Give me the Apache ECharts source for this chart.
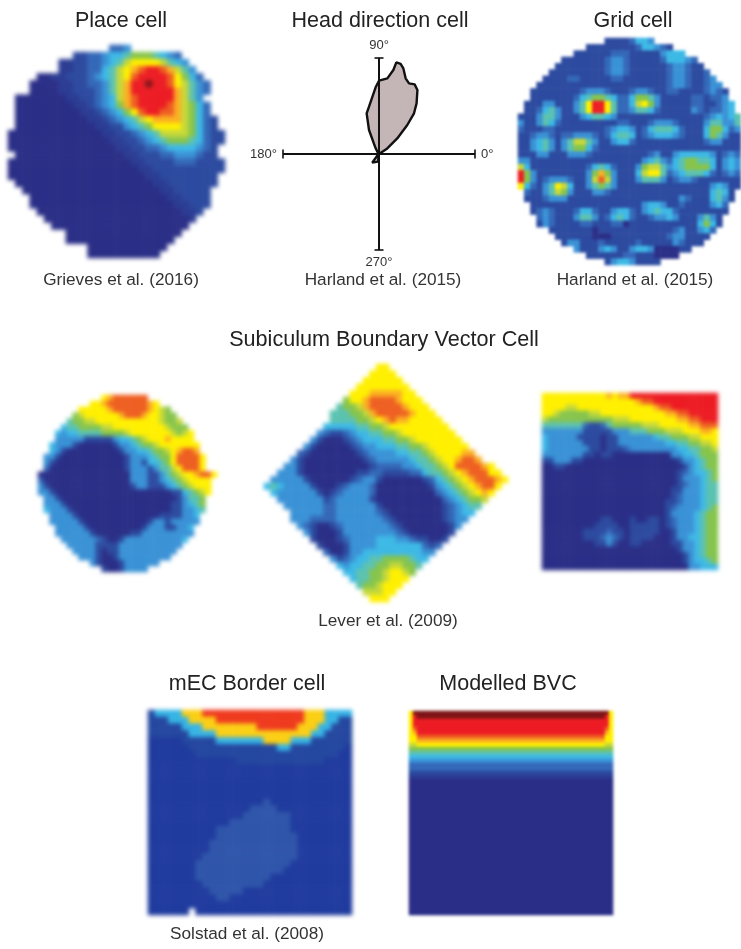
<!DOCTYPE html>
<html><head><meta charset="utf-8">
<script src="https://cdn.jsdelivr.net/npm/echarts@6/dist/echarts.min.js"></script>
<style>
html,body{margin:0;padding:0;background:#fff}
#c{width:741px;height:949px}
#c canvas[data-zr-dom-id="zr_0"]{filter:blur(2.2px)}
#c canvas[data-zr-dom-id="zr_1"]{filter:blur(1.6px)}
#c canvas[data-zr-dom-id="zr_2"]{filter:blur(1.4px)}
#c canvas[data-zr-dom-id="zr_3"]{filter:blur(0.35px)}
</style>
</head><body><div id="c"></div>
<script>
// level codes: 0..9,a,b,c (firing-rate level), h = level 0.5, '.' = outside the arena
const placeRows = [
"..............223.............",
".........112234456665432......",
".......hh1122345788887543.....",
".......hh112245789abba9753....",
"....00hh111234578abbbba8642...",
"...0000hh11223579bbcbba87532..",
"...0000hh11123579bbbbbb97532..",
".0000000hh11234" + "79abbbbb9753" + "...",
".00000000hh1" + "2346" + "9abbbba" + "97642" + "..",
".000000000hh1" + "234" + "68abbaa" + "97642" + "..",
".0000000000hh1" + "2345" + "789999" + "76421" + ".",
".00000000000hh11" + "3456" + "8888" + "76421" + ".",
"0000000000000hh11" + "2345" + "7777" + "64211",
"00000000000000hh11" + "2345" + "666" + "54211",
"000000000000000hh11" + "223" + "4444" + "321" + ".",
".000000000000000hh111" + "22" + "333" + "211" + ".",
"00000000000000000hh1111" + "222" + "1111",
"000000000000000000hh" + "1111111111",
"0000000000000000000hh" + "11111111" + ".",
".0000000000000000000hh" + "1111111" + ".",
"..0000000000000000000hh" + "11111" + "..",
"...0000000000000000000hh" + "1111" + "..",
"...00000000000000000000hh" + "111" + "..",
"....00000000000000000000hh" + "1" + "...",
".....00000000000000000000h....",
"......0000000000000000000.....",
"........0000000000000000......",
"........000000000000000.......",
"...........00000000000........",
"...........0000000000........."];

const gridRows = [
"..............11112443..............",
"...........11111111244321...........",
".........111111222111113444.........",
".......1111111233211111244432.......",
"......111111112332111111233211......",
".....11111111123321111112332112.....",
"....1111221111122111111123321123....",
"...111111111111111111111233211233...",
"..11111111233321112332112211112321..",
"..1111111" + "24566542246653" + "11111221223" + "..",
"." + "111" + "33" + "111" + "358bb852247863" + "111112211234" + ".",
"." + "11" + "2" + "45" + "3" + "11" + "358bb852235542" + "111113212234" + ".",
"111" + "3553" + "111" + "345543" + "1111111" + "1111111" + "2" + "34345",
"3" + "11" + "3542" + "11111111" + "1221" + "11" + "233321" + "111" + "355335",
"2" + "111" + "22" + "11111111" + "2" + "3443" + "1" + "2" + "455542" + "111" + "466423",
"11" + "2332" + "1" + "223332" + "1" + "2" + "4554" + "1" + "2" + "344432" + "111" + "465311",
"11" + "3453" + "1" + "357753" + "11" + "3442" + "11111111111" + "233111",
"11" + "3453" + "1" + "356642" + "11111111111111111111111",
"111" + "33" + "111" + "3332" + "111111111" + "23" + "11" + "3444443" + "1" + "232",
"33" + "111111111111111111" + "34532" + "4566554" + "1" + "343",
"74" + "111111111" + "24542" + "111" + "367753" + "4566664" + "1" + "343",
"b63" + "11111111" + "36963" + "111" + "478852" + "3455542" + "1" + "232",
"b63" + "1" + "23332" + "11" + "37a73" + "111" + "355531" + "2332111" + "1" + "111",
"842" + "1" + "35874" + "11" + "35653" + "111111111111111" + "34" + "311",
"." + "211" + "35763" + "111" + "332" + "1111111111111111" + "454" + "1" + ".",
"." + "111" + "2333" + "111111111111111111" + "32" + "111" + "453" + "1" + ".",
".." + "111111111111111111" + "3443" + "1" + "1" + "2" + "1111" + "342" + "..",
".." + "1" + "232" + "111" + "2442" + "11" + "3442" + "1" + "345442" + "11111111" + "..",
"..." + "232" + "111" + "3553" + "1" + "24542" + "1" + "1" + "23343" + "111" + "353" + "1" + "...",
"..." + "1" + "32" + "1111" + "22" + "111" + "22" + "011111111111" + "464" + "1" + "...",
"....." + "11111110111111111111" + "23" + "11" + "342" + "....",
"......" + "111111000111111111" + "233" + "1111" + ".....",
"......." + "1" + "33" + "111" + "2" + "11111" + "2" + "11111" + "32" + "111" + "......",
"........." + "3" + "111" + "343" + "11" + "3443" + "000011" + "........",
"...........111111221110000..........",
"..............134431111............."];

const circleRows = [
"..........." + "89aaaaaa" + "...........",
"........." + "889aaaaaaa98" + ".........",
"......." + "888889aaaaaa9876" + ".......",
"......" + "67" + "8888889" + "aaa9" + "88" + "766" + "......",
".....56677888888888887667.....",
"....4556666778888888887666....",
"...434455556666788888887678...",
"...333331111134456788898888...",
".." + "4333" + "1" + "000000" + "1" + "33" + "4" + "5" + "66" + "7" + "8888888" + "..",
".." + "431" + "000000000" + "1" + "33" + "44" + "5" + "66" + "7" + "8" + "9" + "aa" + "9" + "..",
"." + "331" + "00000000000" + "1333" + "4" + "5" + "66" + "8" + "aaaa" + "8" + ".",
"." + "31" + "000000000000" + "1331" + "44" + "5" + "6" + "8" + "aaaa" + "8" + ".",
"." + "2" + "0000000000000" + "13331" + "3" + "55" + "7" + "8" + "aaa" + "8" + ".",
"0000000000000000" + "33311" + "3" + "5" + "6" + "7" + "88" + "9" + "aa" + "8",
"2" + "000000000000000" + "33311345678888",
"3" + "1" + "00000000000000" + "13311134567888",
"33" + "1" + "00000000000000000000" + "1145678",
"." + "331" + "00000000000000000000" + "13556" + ".",
"." + "3331" + "000000000000000000" + "113456" + ".",
"." + "43331" + "00000000000000000" + "113345" + ".",
".." + "33331" + "00000000000000" + "1111334" + "..",
".." + "333331" + "00000000000" + "133133333" + "..",
"..." + "333331" + "000000000" + "133311334" + "...",
"..." + "3333331" + "000000" + "11" + "333333333" + "...",
"...." + "333333" + "2" + "1" + "00" + "1" + "33333333334" + "....",
"....." + "33333" + "1111" + "33333333333" + ".....",
"......" + "3333" + "1011" + "3333333333" + "......",
"......." + "333" + "1001" + "333333333" + ".......",
"........." + "3" + "1" + "000" + "1" + "333333" + ".........",
"...........10013333..........."];

const diamondRows = [
".................88.................",
"................8888................",
"...............888888...............",
"..............88888888..............",
".............8889999988.............",
"............" + "688" + "9" + "aaaa" + "9" + "888" + "............",
"..........." + "5667" + "9" + "aaaaa" + "9" + "888" + "...........",
".........." + "55566" + "79" + "aaaaa" + "9" + "888" + "..........",
".........." + "5555" + "66" + "7" + "8" + "9" + "a" + "99" + "88888" + ".........",
"........." + "44444" + "55" + "66" + "7" + "888888888" + "........",
"........" + "3211" + "23" + "44" + "55" + "66" + "7" + "88888888" + ".......",
"......." + "31000123" + "444" + "55" + "66" + "7" + "8888888" + "......",
"......" + "31" + "00000" + "12" + "33" + "444" + "55" + "66" + "7" + "888888" + ".....",
"....." + "21" + "0000000" + "12" + "3333" + "44" + "55" + "6" + "7" + "888899" + "....",
"...." + "31" + "000000000" + "12" + "33333" + "4" + "55" + "6" + "7" + "889" + "aa" + "9" + "...",
"..." + "331" + "0000000000" + "1" + "2222" + "33" + "4" + "55" + "6" + "7" + "8" + "a" + "aaa" + "9" + "8" + "..",
".." + "3331" + "00000000" + "11" + "22" + "1111" + "22" + "4" + "55" + "6" + "7" + "8" + "9" + "aaa" + "8" + "8" + ".",
"." + "33333" + "1" + "000000" + "1" + "2" + "33" + "1" + "000000" + "1" + "2" + "4" + "5" + "6" + "7" + "8" + "9" + "aaa" + "9" + "8",
"454" + "3333" + "1" + "000" + "12" + "333" + "2" + "00000000" + "1" + "3456789aa8",
"." + "4" + "333333" + "1" + "0" + "12" + "3333" + "2" + "000000000" + "234567898" + ".",
".." + "3333333" + "1" + "2" + "33333" + "1" + "0000000000" + "2345667" + "..",
"..." + "333333" + "22" + "333333" + "1" + "000000000" + "123455" + "...",
"...." + "33333" + "22" + "333333" + "21" + "00000000" + "12344" + "....",
"...." + "333" + "2222" + "3333333" + "21" + "0000000" + "1233" + ".....",
"....." + "3210012" + "3333333" + "21" + "0000000" + "13" + "......",
"......" + "310001" + "33333333" + "21" + "000000" + "1" + ".......",
"......." + "10001" + "2" + "333344433" + "2" + "11" + "00" + "1" + "........",
"........" + "10001" + "3333" + "4444444" + "2" + "1" + "2" + ".........",
"........." + "2001" + "33" + "444444444" + "33" + "..........",
".........." + "3123" + "44" + "55" + "6666" + "5" + "44" + "...........",
"..........." + "4344" + "55" + "66" + "77" + "66" + "5" + "............",
"............" + "44" + "55" + "66" + "7" + "88" + "7" + "6" + ".............",
".............455667888..............",
"..............5667888...............",
"...............77788................",
"................888................."];

const squareRows = [
"88888888888" + "9" + "8" + "99" + "bbbbbbbbbbbbbbb",
"8888888888888888" + "9" + "aa" + "bbbbbbbbbbb",
"8888" + "77" + "8888888888888" + "9aa" + "bbbbbbbb",
"88" + "7" + "66666" + "77" + "88888888888" + "99" + "aa" + "bbbbb",
"7" + "66666666666" + "777" + "88888888" + "99" + "aa" + "bbb",
"5555555" + "2112" + "5" + "66666" + "777" + "88888" + "99" + "aaa",
"3333333" + "11111" + "333" + "555" + "666" + "777" + "888" + "99" + "8",
"4" + "33333" + "1111" + "0" + "11" + "333333" + "4" + "55" + "666" + "77" + "888",
"4" + "333333" + "111" + "0" + "11" + "33333333" + "44" + "55" + "66" + "77" + "8",
"4" + "3333333" + "11" + "0" + "111" + "2" + "33333333" + "44" + "55" + "66" + "7",
"3333333" + "11" + "0" + "11" + "0000000000" + "3" + "3445666",
"11" + "333" + "11" + "0000000000000000" + "1" + "33" + "4" + "5" + "66",
"00" + "11" + "00000000000000000000" + "1" + "3" + "4" + "5" + "66",
"00000000000000000000000" + "1" + "2" + "3" + "44" + "5" + "6",
"00000000000000000000000" + "1" + "333" + "4" + "5" + "6",
"00000000000000000000000" + "12" + "33" + "4" + "55",
"0000000000000000000000" + "11" + "333" + "4" + "55",
"0000000000000000000000" + "12" + "333" + "4" + "55",
"000000000000000000000" + "112" + "333" + "4" + "55",
"000000000000000000000" + "12" + "3333" + "4" + "56",
"000000000000000000000" + "1" + "3333" + "4" + "5" + "66",
"0000000000" + "11" + "000" + "1" + "00" + "11" + "0" + "1" + "2" + "333" + "4" + "5" + "66",
"000000000" + "1111" + "00" + "11111" + "0" + "1" + "2" + "333" + "4" + "5" + "66",
"0000000" + "1111" + "2" + "11" + "0" + "11111" + "00" + "1" + "333" + "4" + "5" + "66",
"0000000" + "111" + "2" + "3" + "2" + "1" + "0" + "1111" + "000" + "1" + "33" + "44" + "5" + "66",
"000000000" + "11" + "3" + "1" + "00" + "11" + "00000" + "11" + "33" + "4" + "5" + "66",
"00000000000000000000000" + "1" + "33" + "4" + "5" + "66",
"000000000000000000000000" + "1" + "3" + "4" + "5" + "66",
"000000000000000000000000" + "1" + "3" + "44" + "5" + "6",
"0000000000000000000000000" + "33" + "444"];

const borderRows = [
"1" + "4444" + "888" + "bbbbbbbbbbbbbbb" + "888" + "4444",
"111" + "444" + "8888" + "bbbbbbbbbbbbb" + "888" + "44" + "11",
"11111" + "444" + "88888888" + "bbbbbb" + "888" + "44" + "111",
"111111" + "4444" + "88888888888888" + "44" + "1111",
"00000" + "11111" + "4444444" + "8888" + "444" + "111111",
"000000" + "1111111111111" + "44" + "11111111" + "0",
"0000000" + "111111111111111111111" + "00",
"0000000000000" + "1111111111111" + "0000",
"000000000000000000000000000000",
"000000000000000000000000000000",
"000000000000000000000000000000",
"000000000000000000000000000000",
"000000000000000000000000000000",
"000000000000000002000000000000",
"000000000000000222200000000000",
"000000000000002222222000000000",
"000000000000222222222000000000",
"000000000022222222222000000000",
"000000000022222222222200000000",
"000000000222222222222200000000",
"000000000222222222222200000000",
"000000002222222222222200000000",
"000000022222222222222000000000",
"000000022222222222220000000000",
"000000022222222222000000000000",
"000000002222222220000000000000",
"000000000222220000000000000000",
"000000000022000000000000000000",
"000000000000000000000000000000",
"000000.00000000000000000000000"];

// Modelled BVC: the field depends only on distance from the north wall
const modelCenter = "ccbbbba9865432 21h".replace(" ","") + "0000000000000000000000000000000000";
const modelEdge   = "88888888765432 21h".replace(" ","") + "0000000000000000000000000000000000";
const modelNear   = "cbbba988765432 21h".replace(" ","") + "0000000000000000000000000000000000";
const modelColumns = 51;

// Head direction polar plot: [radius, angle in degrees]
const hdRadius = [0,10,24,40.5,53.7,63,74.6,78.2,76.8,80.2,89,92.6,93.3,85.2,76.1,73.3,66.8,48.4,42.5,26,6.6,0.5,11,7.7,0];
const hdAngle  = [0,34,40.5,45.7,49.3,53.4,59,62.9,67,70.6,74.1,76.5,79.3,80.3,83.7,90,92.9,101.9,106.9,112.6,120.5,180,232,262.6,360];
const hdCapAngles = [0,90,180,270];
const hdAxisMax = 96;

const headings = [
 ["Place cell",121,21,21.5],["Head direction cell",380,21,21.5],["Grid cell",633,21,21.5],
 ["Subiculum Boundary Vector Cell",384,340,21.6],["mEC Border cell",247,684,21.5],["Modelled BVC",508,684,21.5]];
const citations = [
 ["Grieves et al. (2016)",121,280],["Harland et al. (2015)",383,280],["Harland et al. (2015)",635,280],
 ["Lever et al. (2009)",388,621],["Solstad et al. (2008)",247,934]];

const jet = ['#2a2e86','#2c4a9f','#3468b8','#3a92d6','#3db9e6','#5cc2b0','#86c44c','#c6d83a','#fff000','#fbb022','#ee5f22','#ed1c24','#7e1416'];
const borderJet = ['#1f3b9e','#24479f','#2f55aa','#3a92d6','#36b4e5','#5cc2b0','#86c44c','#c6d83a','#fbcf14','#fbb022','#ee5f22','#ef3a1e','#7e1416'];
const LV = '0123456789abc';
const levelOf = ch => ch==='h' ? 0.5 : LV.indexOf(ch);

function modelRows(){
  const rows=[];
  for(let r=0;r<modelCenter.length;r++){
    let s=modelEdge[r]+modelNear[r];
    for(let c=2;c<modelColumns-2;c++) s+=modelCenter[r];
    s+=modelNear[r]+modelEdge[r];
    rows.push(s);
  }
  return rows;
}
const panels = [
 {rows:placeRows,  box:[8,45,217,213],layer:0},
 {rows:gridRows,   box:[518,38,223,227],layer:1},
 {rows:circleRows, box:[38,395,179,177],layer:0},
 {rows:diamondRows,box:[264,364,244,238],layer:0},
 {rows:squareRows, box:[542,393,176,177],layer:0},
 {rows:borderRows, box:[148,710,204,205],layer:0},
 {rows:modelRows(),box:[409,711,204,204],layer:2}
];
function cells(rows){
  const out=[];
  rows.forEach((row,y)=>{ for(let x=0;x<row.length;x++){ const v=levelOf(row[x]); if(v>=0) out.push([x,y,v]); } });
  return out;
}
const grid=[],xAxis=[],yAxis=[],series=[];
panels.forEach((p,i)=>{
  const w=Math.max(...p.rows.map(r=>r.length)), h=p.rows.length;
  grid.push({left:p.box[0],top:p.box[1],width:p.box[2],height:p.box[3]});
  xAxis.push({type:'category',gridIndex:i,data:Array.from({length:w},(_,k)=>k),show:false});
  yAxis.push({type:'category',gridIndex:i,data:Array.from({length:h},(_,k)=>k),inverse:true,show:false});
  series.push({type:'heatmap',zlevel:p.layer,xAxisIndex:i,yAxisIndex:i,data:cells(p.rows),itemStyle:{borderWidth:0},progressive:0,emphasis:{disabled:true}});
});
series.push({type:'line',coordinateSystem:'polar',zlevel:3,z:2,symbol:'none',smooth:false,
  data:hdRadius.map((r,k)=>[r,hdAngle[k]]),
  lineStyle:{color:'#111',width:2.4},areaStyle:{color:'#c4b6b6',opacity:1}});
series.push({type:'line',coordinateSystem:'polar',zlevel:3,z:3,symbol:'none',
  data:[[hdAxisMax,90],[0,90]],lineStyle:{color:'#111',width:2}});
series.push({type:'scatter',coordinateSystem:'polar',zlevel:3,z:6,symbol:'rect',symbolSize:[2,9],
  data:hdCapAngles.map(a=>({value:[hdAxisMax,a],symbolRotate:a})),itemStyle:{color:'#111'}});

const text=[];
headings.forEach(h=>text.push({type:'text',zlevel:3,x:h[1],y:h[2],style:{text:h[0],fontFamily:'Liberation Sans',fontSize:h[3],fill:'#222',textAlign:'center',textVerticalAlign:'middle'}}));
citations.forEach(h=>text.push({type:'text',zlevel:3,x:h[1],y:h[2],style:{text:h[0],fontFamily:'Liberation Sans',fontSize:17.2,fill:'#333',textAlign:'center',textVerticalAlign:'middle'}}));

const chart=echarts.init(document.getElementById('c'),null,{renderer:'canvas'});
chart.setOption({
  animation:false,
  grid,xAxis,yAxis,series,
  visualMap:[
   {type:'continuous',show:false,min:0,max:12,dimension:2,seriesIndex:[0,1,2,3,4,6],inRange:{color:jet}},
   {type:'continuous',show:false,min:0,max:12,dimension:2,seriesIndex:[5],inRange:{color:borderJet}}],
  polar:{center:[379,154],radius:hdAxisMax},
  radiusAxis:{type:'value',min:0,max:hdAxisMax,show:false},
  angleAxis:{type:'value',min:0,max:360,interval:90,startAngle:0,clockwise:false,zlevel:3,
    axisLine:{show:false},axisTick:{show:false},
    axisLabel:{show:true,margin:6,color:'#333',fontFamily:'Liberation Sans',fontSize:13,formatter:v=>v+'°'},
    splitLine:{show:true,lineStyle:{color:'#111',width:2}}},
  graphic:text
});
</script></body></html>
